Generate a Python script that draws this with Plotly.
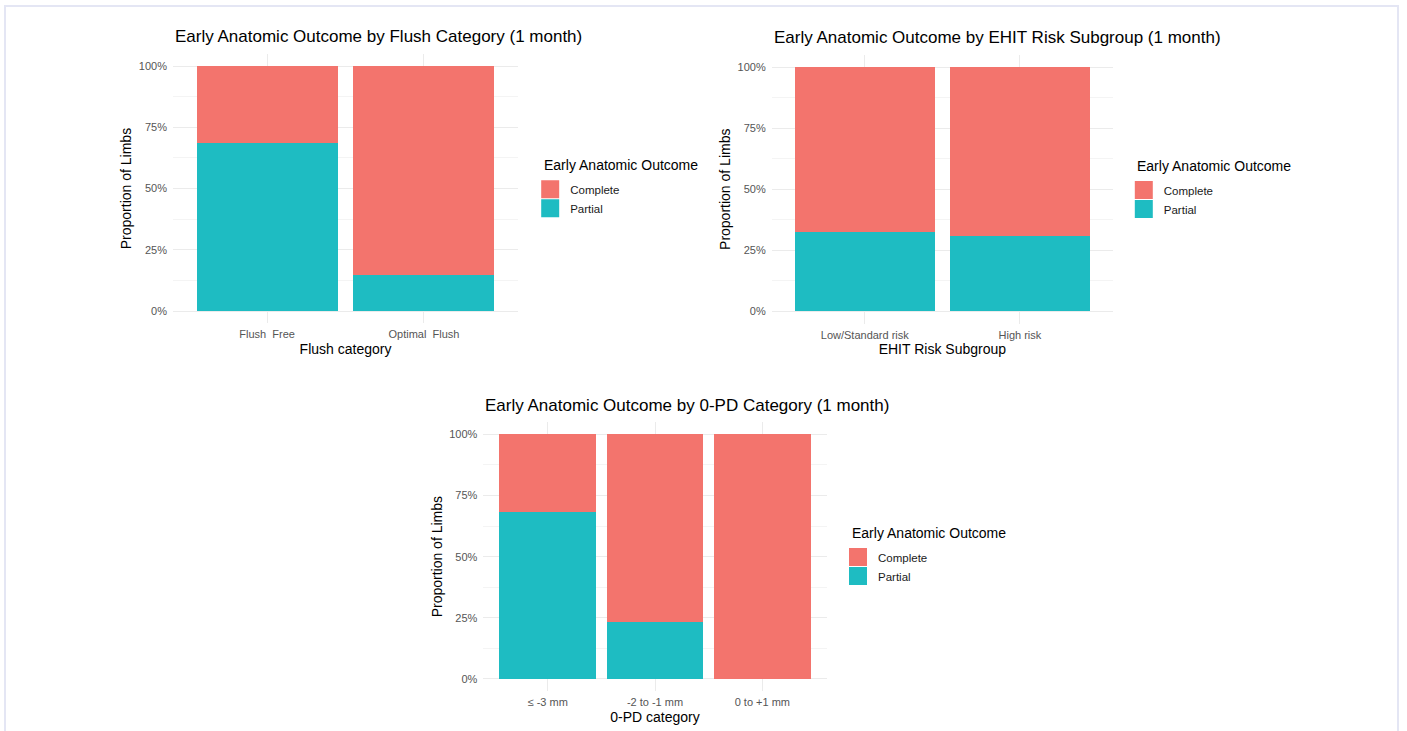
import plotly.graph_objects as go

# ---------------- data ----------------
flush_categories = ["Flush\u00a0 Free", "Optimal\u00a0 Flush"]
flush_partial = [0.684, 0.147]
flush_complete = [0.316, 0.853]

ehit_categories = ["Low/Standard risk", "High risk"]
ehit_partial = [0.324, 0.307]
ehit_complete = [0.676, 0.693]

pd_categories = ["\u2264 -3 mm", "-2 to -1 mm", "0 to +1 mm"]
pd_partial = [0.684, 0.232, 0.0]
pd_complete = [0.316, 0.768, 1.0]

outcome_names = ["Complete", "Partial"]
y_tickvals = [0, 0.25, 0.5, 0.75, 1.0]
y_ticktext = ["0%", "25%", "50%", "75%", "100%"]
y_minor = [0.125, 0.375, 0.625, 0.875]

titles = [
    "Early Anatomic Outcome by Flush Category (1 month)",
    "Early Anatomic Outcome by EHIT Risk Subgroup (1 month)",
    "Early Anatomic Outcome by 0-PD Category (1 month)",
]
x_titles = ["Flush category", "EHIT Risk Subgroup", "0-PD category"]
y_title = "Proportion of Limbs"
legend_title = "Early Anatomic Outcome"

# ---------------- style ----------------
W, H = 1407, 731
COL = {"Complete": "#F3746D", "Partial": "#1EBCC2"}
FONT = "Liberation Sans, Arial, Helvetica, sans-serif"


def fx(p):
    return p / W


def fy(p):
    return 1 - p / H


panels = [
    dict(cats=flush_categories, part=flush_partial, comp=flush_complete,
         xd=(173, 518), yd=(53.8, 323.3), leg=(541.7, 165)),
    dict(cats=ehit_categories, part=ehit_partial, comp=ehit_complete,
         xd=(771.7, 1113), yd=(54.8, 323.7), leg=(1135.3, 165.7)),
    dict(cats=pd_categories, part=pd_partial, comp=pd_complete,
         xd=(483.3, 826.7), yd=(422.1, 691.2), leg=(849.5, 532.7)),
]

fig = go.Figure()
layout = dict(
    width=W, height=H,
    margin=dict(l=0, r=0, t=0, b=0),
    paper_bgcolor="white", plot_bgcolor="white",
    barmode="stack",
    font=dict(family=FONT, color="black"),
    annotations=[], shapes=[],
)

for i, p in enumerate(panels):
    n = i + 1
    xa = "x" if n == 1 else f"x{n}"
    ya = "y" if n == 1 else f"y{n}"
    lg = "legend" if n == 1 else f"legend{n}"
    fig.add_trace(go.Bar(x=p["cats"], y=p["part"], name="Partial", xaxis=xa, yaxis=ya,
                         width=0.9, marker=dict(color=COL["Partial"], line=dict(width=0)),
                         showlegend=False))
    fig.add_trace(go.Bar(x=p["cats"], y=p["comp"], name="Complete", xaxis=xa, yaxis=ya,
                         width=0.9, marker=dict(color=COL["Complete"], line=dict(width=0)),
                         showlegend=False))
    # legend key proxies (large square keys like ggplot)
    for nm in outcome_names:
        fig.add_trace(go.Scatter(x=[None], y=[None], mode="markers", name=nm, xaxis=xa, yaxis=ya,
                                 legend=lg,
                                 marker=dict(symbol="square", size=16, color=COL[nm],
                                             line=dict(width=2, color=COL[nm]))))
    ncat = len(p["cats"])
    xkey = "xaxis" if n == 1 else f"xaxis{n}"
    ykey = "yaxis" if n == 1 else f"yaxis{n}"
    layout[xkey] = dict(
        domain=[fx(p["xd"][0]), fx(p["xd"][1])],
        anchor=ya, type="category", range=[-0.6, ncat - 1 + 0.6],
        showgrid=True, gridcolor="#ebebeb", gridwidth=1,
        showline=False, zeroline=False, ticks="", ticklabelstandoff=3,
        tickfont=dict(size=11, color="#555555"),
        title=dict(text=x_titles[i], font=dict(size=14, color="black"), standoff=4),
        fixedrange=True,
    )
    layout[ykey] = dict(
        domain=[fy(p["yd"][1]), fy(p["yd"][0])],
        anchor=xa, range=[-0.05, 1.05],
        tickvals=y_tickvals, ticktext=y_ticktext,
        showgrid=True, gridcolor="#ebebeb", gridwidth=1,
        minor=dict(tickvals=y_minor, showgrid=True, gridcolor="#f4f4f4", gridwidth=1),
        showline=False, zeroline=False, ticks="", ticklabelstandoff=5,
        tickfont=dict(size=11, color="#555555"),
        title=dict(text=y_title, font=dict(size=14, color="black"), standoff=3),
        fixedrange=True,
    )
    lx, ly = p["leg"]
    layout[lg] = dict(
        x=fx(lx - 11.5), y=fy(ly + 9.8), xanchor="left", yanchor="top",
        font=dict(size=11.5, color="#1a1a1a"), traceorder="normal",
        itemsizing="trace", itemwidth=30, bgcolor="rgba(0,0,0,0)",
        borderwidth=0, tracegroupgap=0,
    )
    layout["annotations"].append(dict(
        text=legend_title, xref="paper", yref="paper",
        x=fx(lx), y=fy(ly), xanchor="left", yanchor="middle",
        showarrow=False, font=dict(size=14, color="black"),
    ))
    layout["annotations"].append(dict(
        text=titles[i], xref="paper", yref="paper",
        x=fx(p["xd"][0]), y=fy(p["yd"][0] - 17), xanchor="left", yanchor="middle",
        showarrow=False, font=dict(size=17, color="black"),
    ))

# outer light frame
layout["shapes"].append(dict(type="rect", xref="paper", yref="paper",
                             x0=fx(5), x1=fx(1398), y0=-0.05, y1=fy(6),
                             line=dict(color="#e4e6f4", width=2), layer="below"))

fig.update_layout(**layout)
fig.write_html(
    "out.html",
    config={"displayModeBar": False},
    post_script="document.body.style.margin='0px';document.body.style.overflow='hidden';",
)
